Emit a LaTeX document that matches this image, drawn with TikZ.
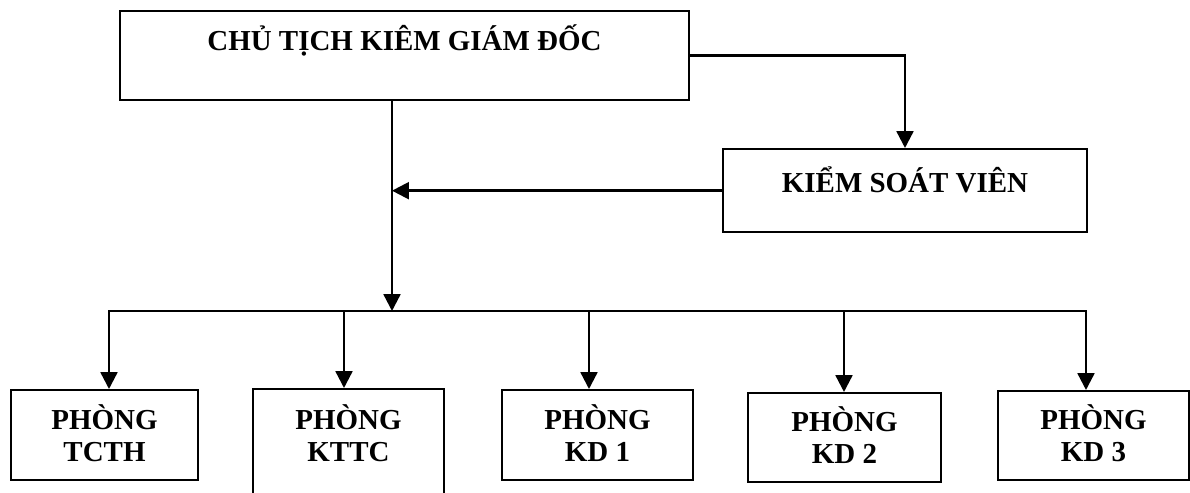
\documentclass[tikz,border=0pt]{standalone}
\usepackage{fontspec}
\setmainfont{Liberation Serif}
\usetikzlibrary{positioning,calc,arrows.meta}

\begin{document}
\begin{tikzpicture}[
    unitbox/.style={rectangle, draw=black, line width=1.7pt, inner sep=0pt, align=center,
        font=\bfseries\fontsize{20.6pt}{22.8pt}\selectfont},
    % two-line boxes: the base line is the second line
    dept/.style={unitbox, anchor=north, minimum width=4.775cm, text height=1.775cm, text depth=0.475cm},
    wire/.style={line width=1.7pt},
    conn/.style={wire, -{Triangle[length=0.42cm, width=0.42cm]}}
]

% page frame: 29.75cm x 12.325cm
\useasboundingbox (0,0) rectangle (29.75,12.325);
\clip (0,0) rectangle (29.75,12.325);
\fill[white] (0,0) rectangle (29.75,12.325);

% Head of the organisation and the controller
\node[unitbox, anchor=north, minimum width=14.225cm, text height=0.975cm, text depth=1.25cm]
    (chair) at (10.1125,12.075) {CHỦ TỊCH KIÊM GIÁM ĐỐC};
\node[unitbox, anchor=north, minimum width=9.1cm, text height=1.075cm, text depth=1.0cm]
    (ksv) at (22.625,8.625) {KIỂM SOÁT VIÊN};

% Departments
\node[dept, minimum width=4.675cm] (tcth) at (2.6125,2.6) {PHÒNG\\TCTH};
\node[dept, text height=1.8cm, text depth=1.375cm] (kttc) at (8.7125,2.625) {PHÒNG\\KTTC};
\node[dept] (kd1) at (14.9375,2.6) {PHÒNG\\KD 1};
\node[dept, minimum width=4.825cm, text height=1.75cm] (kd2) at (21.1125,2.525) {PHÒNG\\KD 2};
\node[dept, text height=1.75cm] (kd3) at (27.3375,2.575) {PHÒNG\\KD 3};

% Trunk foot and bus drop points
\coordinate (trunk) at (9.8,4.55);
\coordinate (b1) at (2.725,4.55);
\coordinate (b2) at (8.6,4.55);
\coordinate (b3) at (14.725,4.55);
\coordinate (b4) at (21.1,4.55);
\coordinate (b5) at (27.15,4.55);

% Chairman -> controller, controller -> trunk
\draw[conn] (chair.east) -| (ksv.north);
\draw[conn] (chair.south -| trunk) -- (trunk);
\draw[conn] (ksv.west) -- (ksv.west -| trunk);

% Bus and drops to each department
\draw[wire, line cap=rect] (b1) -- (b5);
\foreach \b/\d in {b1/tcth, b2/kttc, b3/kd1, b4/kd2, b5/kd3}
    \draw[conn] (\b) -- (\b |- \d.north);

\end{tikzpicture}
\end{document}
